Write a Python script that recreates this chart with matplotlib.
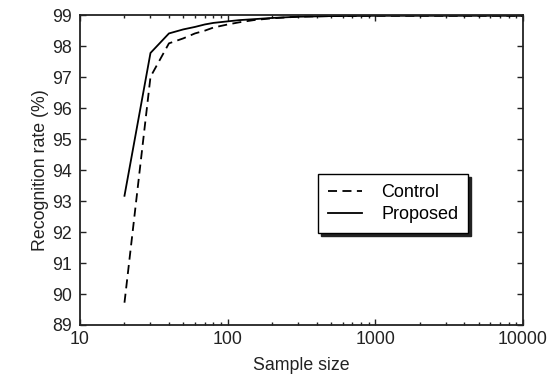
import matplotlib
matplotlib.use("Agg")
import matplotlib.pyplot as plt
from matplotlib.ticker import FixedLocator, LogLocator, NullFormatter

plt.rcParams['font.family'] = ['Liberation Sans', 'DejaVu Sans']

# values
sample_size = [20, 30, 40, 50, 60, 70, 80, 100, 120, 150, 200, 300, 500, 1000, 2000, 5000, 10000]
control = [89.72, 97.01, 98.09, 98.25, 98.41, 98.50, 98.60, 98.70, 98.77, 98.84, 98.90, 98.95, 98.97, 98.98, 98.98, 98.98, 98.98]
proposed = [93.17, 97.78, 98.41, 98.54, 98.62, 98.70, 98.75, 98.80, 98.84, 98.87, 98.91, 98.95, 98.97, 98.98, 98.98, 98.98, 98.98]

x_ticks = [10, 100, 1000, 10000]
y_ticks = list(range(89, 100))

fig = plt.figure(figsize=(5.5, 3.79), dpi=100)
ax = fig.add_axes([0.1455, 0.1425, 0.8055, 0.8175])

ax.plot(sample_size, control, color="black", linestyle=(0, (5, 3)), linewidth=1.3, label="Control")
ax.plot(sample_size, proposed, color="black", linestyle="-", linewidth=1.3, label="Proposed")

ax.set_xscale("log")
ax.set_xlim(10, 10000)
ax.set_ylim(89, 99)
ax.xaxis.set_major_locator(FixedLocator(x_ticks))
ax.set_xticklabels([str(v) for v in x_ticks])
ax.xaxis.set_minor_locator(LogLocator(base=10, subs=range(2, 10)))
ax.xaxis.set_minor_formatter(NullFormatter())
ax.set_yticks(y_ticks)

ax.tick_params(which="both", direction="in", top=True, right=True, labelsize=12.8, colors="#222222")
ax.tick_params(which="major", length=4, width=1)
ax.tick_params(which="minor", length=2.5, width=1)
ax.tick_params(axis="x", which="major", pad=4.5)
ax.tick_params(axis="y", which="major", pad=6)
for s in ax.spines.values():
    s.set_linewidth(1.3)
    s.set_color("#222222")

ax.set_xlabel("Sample size", fontsize=12.8, color="#222222", labelpad=6)
ax.set_ylabel("Recognition rate (%)", fontsize=12.8, color="#222222", labelpad=2)

leg = ax.legend(loc="upper left", bbox_to_anchor=(0.537, 0.487), fontsize=13,
                frameon=True, fancybox=False, shadow={"color": "#222222", "alpha": 1},
                edgecolor="black", handlelength=1.9, borderpad=0.55, labelspacing=0.3,
                handletextpad=1.05, borderaxespad=0)
leg.get_frame().set_linewidth(1.0)

fig.savefig("out.png", dpi=100)
